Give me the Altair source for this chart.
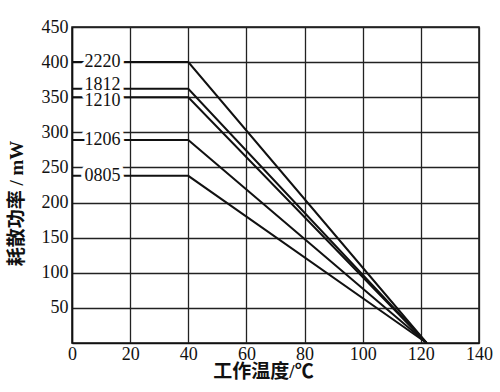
import altair as alt
import pandas as pd

# Rated dissipation (mW) versus operating temperature for chip sizes
models = ["2220", "1812", "1210", "1206", "0805"]
max_power = [400, 362, 350, 289, 238]      # flat level, mW
knee_temp = [40, 40, 40, 40, 40]           # derating starts, °C
end_temp = [122, 122, 122, 122, 122]       # zero power, °C
label_temp = [10.5, 10.5, 10.5, 10.5, 10.5]
label_level = [400, 367, 345, 289, 238]

x_ticks = [0, 20, 40, 60, 80, 100, 120, 140]
y_ticks = [50, 100, 150, 200, 250, 300, 350, 400, 450]

rows = []
for m, p, k, e in zip(models, max_power, knee_temp, end_temp):
    rows.append({"model": m, "t": 0, "p": p, "o": 0})
    rows.append({"model": m, "t": k, "p": p, "o": 1})
    rows.append({"model": m, "t": e, "p": 0, "o": 2})
df = pd.DataFrame(rows)

lab = pd.DataFrame({"model": models, "t": label_temp, "p": label_level})

FONT = "Liberation Serif, Noto Sans CJK SC"

xs = alt.Scale(domain=[0, 140], nice=False, zero=False)
ys = alt.Scale(domain=[0, 450], nice=False)

x_axis = alt.Axis(
    values=x_ticks, tickCount=20, title="工作温度/℃",
    titleX=191, titleY=28, titleAlign="center", titleBaseline="middle",
)
y_axis = alt.Axis(
    values=y_ticks, tickCount=20, title="耗散功率 / mW",
    titleX=-56, titleY=176, titleAlign="center", titleBaseline="middle", titleAngle=-90,
)

lines = alt.Chart(df).mark_line(color="#111", strokeWidth=2).encode(
    x=alt.X("t:Q", scale=xs, axis=x_axis),
    y=alt.Y("p:Q", scale=ys, axis=y_axis),
    detail="model:N",
    order="o:Q",
)

halo = alt.Chart(lab).mark_text(
    font="Liberation Serif", fontSize=18, fill="white", stroke="white",
    strokeWidth=8, strokeJoin="round", baseline="middle", align="center",
).encode(x=alt.X("t:Q", scale=xs), y=alt.Y("p:Q", scale=ys), text="model:N")

text = alt.Chart(lab).mark_text(
    font="Liberation Serif", fontSize=18, fill="#111", baseline="middle", align="center",
).encode(x=alt.X("t:Q", scale=xs), y=alt.Y("p:Q", scale=ys), text="model:N")

chart = alt.layer(lines, halo, text).properties(
    width=407, height=316,
    background="white",
    autosize=alt.AutoSizeParams(type="none"),
    padding={"left": 72, "top": 27, "right": 21, "bottom": 49},
).configure_view(
    stroke="#111", strokeWidth=1.5
).configure_axis(
    grid=True, tickSize=0, labelOverlap=False, labelFlush=False,
    labelFont=FONT, labelFontSize=18, labelColor="#111",
    titleFont=FONT, titleFontSize=19, titleFontWeight="bold", titleColor="#111",
    gridColor="#222", gridWidth=1.3, domainColor="#111", domainWidth=1.5,
).configure_axisX(labelPadding=2).configure_axisY(labelPadding=4)

chart.save("out.html", embed_options={"renderer": "svg", "actions": False})
